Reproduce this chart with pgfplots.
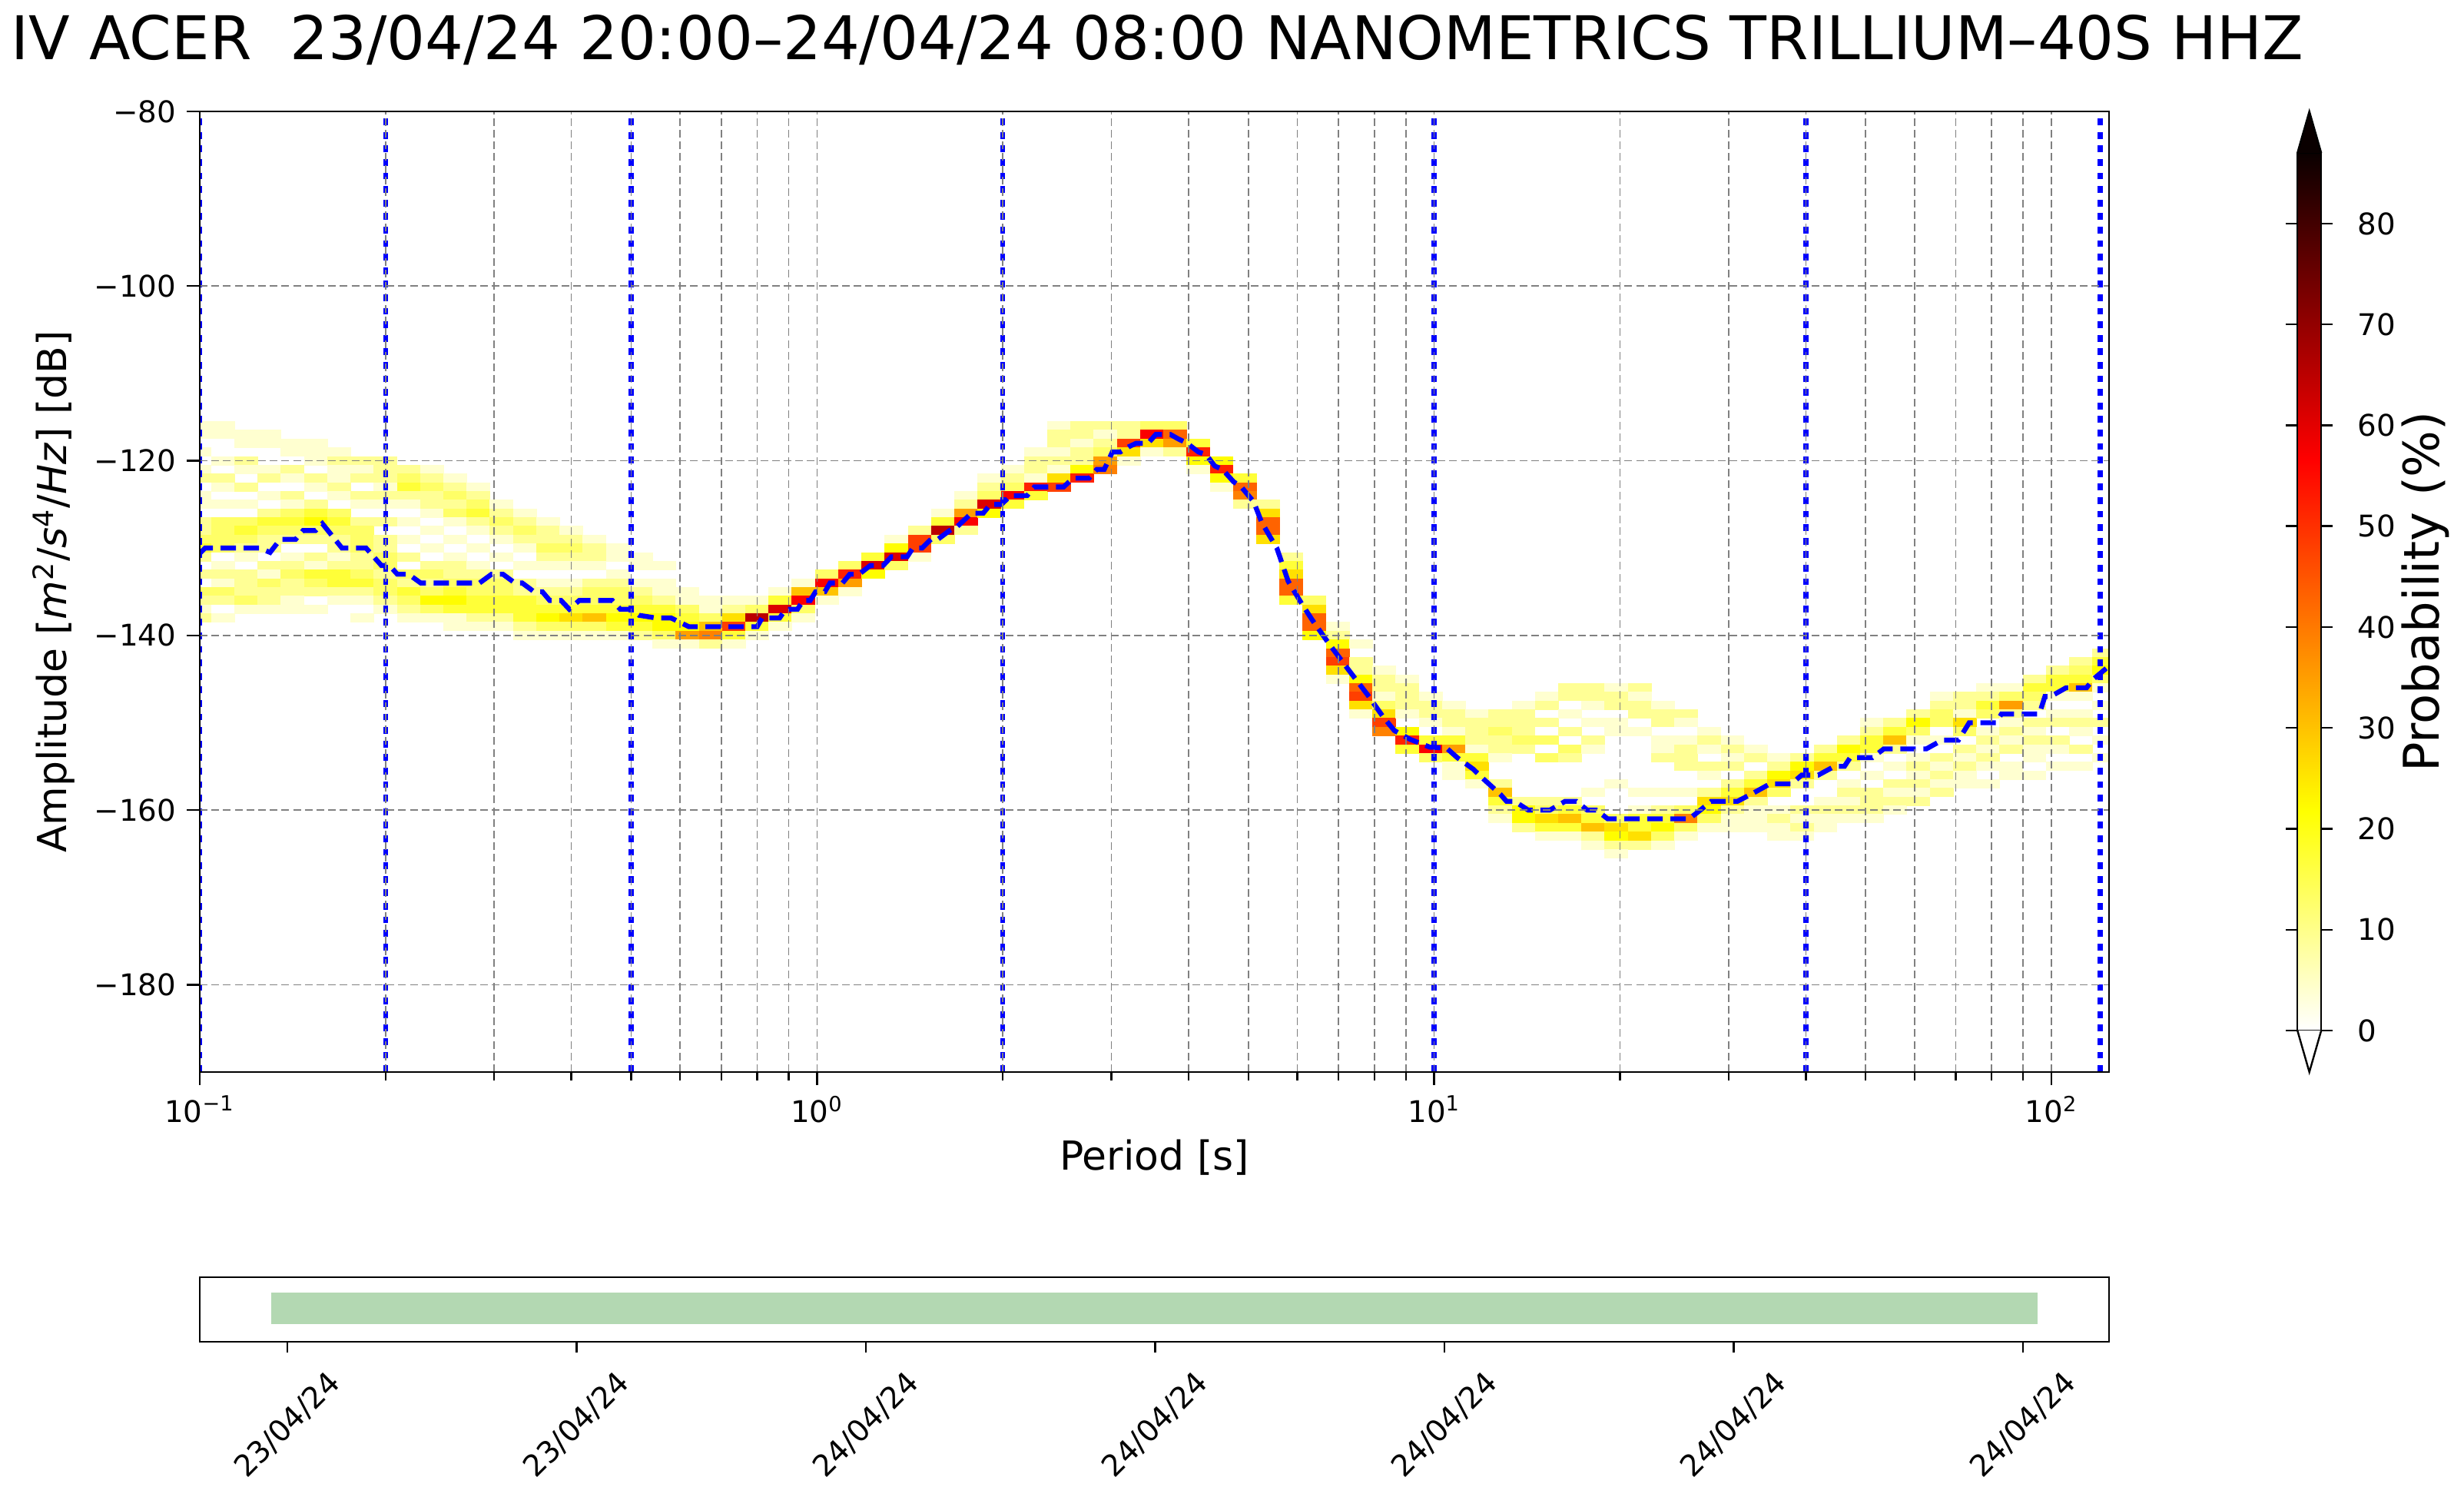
\documentclass[border=0pt]{standalone}
\usepackage{fontspec}
\setmainfont{DejaVu Sans}
\usepackage{pgfplots}
\usepackage{pgfplotstable}
\pgfplotsset{compat=1.18}

\definecolor{barg}{rgb}{0.702,0.847,0.698}
\definecolor{cbtop}{rgb}{0.04,0,0}

% one histogram cell: 1/8 octave wide, 1 dB high
\pgfdeclareplotmark{cell}{%
  \pgfpathrectangle{\pgfpoint{-3.86pt}{-1.5pt}}{\pgfpoint{7.72pt}{3.0pt}}%
  \pgfusepathqfill}

% period [s], power [dB], probability [%]
\pgfplotstableread[row sep=\\]{
t db p\\
0.1 -116 4\\0.1 -117 4\\0.1 -119 4\\0.1 -121 4\\0.1 -122 9\\0.1 -124 4\\0.1 -125 4\\0.1 -127 9\\0.1 -128 9\\0.1 -129 13\\0.1 -130 17\\0.1 -131 9\\0.1 -133 9\\0.1 -135 13\\0.1 -136 9\\0.1 -137 4\\0.1 -138 9\\
0.1091 -116 4\\0.1091 -117 4\\0.1091 -120 4\\0.1091 -122 9\\0.1091 -123 4\\0.1091 -125 4\\0.1091 -127 13\\0.1091 -128 13\\0.1091 -129 13\\0.1091 -130 13\\0.1091 -132 4\\0.1091 -133 9\\0.1091 -134 4\\0.1091 -135 13\\0.1091 -136 9\\0.1091 -138 4\\
0.1189 -117 4\\0.1189 -118 4\\0.1189 -120 9\\0.1189 -121 4\\0.1189 -123 9\\0.1189 -125 4\\0.1189 -127 13\\0.1189 -128 17\\0.1189 -129 13\\0.1189 -130 9\\0.1189 -131 4\\0.1189 -133 9\\0.1189 -134 9\\0.1189 -135 9\\0.1189 -136 13\\0.1189 -137 4\\
0.1297 -117 4\\0.1297 -118 4\\0.1297 -121 4\\0.1297 -122 9\\0.1297 -124 4\\0.1297 -126 9\\0.1297 -127 17\\0.1297 -128 13\\0.1297 -129 9\\0.1297 -130 9\\0.1297 -132 9\\0.1297 -133 4\\0.1297 -134 13\\0.1297 -135 9\\0.1297 -136 9\\0.1297 -137 4\\
0.1414 -118 4\\0.1414 -119 4\\0.1414 -121 9\\0.1414 -122 4\\0.1414 -124 9\\0.1414 -125 4\\0.1414 -126 13\\0.1414 -127 17\\0.1414 -128 13\\0.1414 -129 9\\0.1414 -131 4\\0.1414 -132 9\\0.1414 -133 13\\0.1414 -134 9\\0.1414 -135 9\\0.1414 -136 4\\0.1414 -137 4\\
0.1542 -118 4\\0.1542 -119 4\\0.1542 -120 4\\0.1542 -122 9\\0.1542 -123 4\\0.1542 -125 9\\0.1542 -126 17\\0.1542 -127 22\\0.1542 -128 13\\0.1542 -129 9\\0.1542 -131 9\\0.1542 -132 4\\0.1542 -133 17\\0.1542 -134 13\\0.1542 -135 9\\0.1542 -137 4\\
0.1682 -119 4\\0.1682 -120 9\\0.1682 -121 4\\0.1682 -122 4\\0.1682 -123 9\\0.1682 -124 4\\0.1682 -126 13\\0.1682 -127 17\\0.1682 -128 13\\0.1682 -129 9\\0.1682 -130 9\\0.1682 -131 4\\0.1682 -132 9\\0.1682 -133 17\\0.1682 -134 17\\0.1682 -135 9\\0.1682 -136 4\\
0.1834 -120 9\\0.1834 -121 4\\0.1834 -122 9\\0.1834 -124 9\\0.1834 -125 4\\0.1834 -127 9\\0.1834 -128 13\\0.1834 -129 13\\0.1834 -130 13\\0.1834 -131 9\\0.1834 -132 9\\0.1834 -133 13\\0.1834 -134 17\\0.1834 -135 9\\0.1834 -136 4\\0.1834 -138 4\\
0.2 -120 9\\0.2 -121 9\\0.2 -122 9\\0.2 -123 4\\0.2 -124 9\\0.2 -125 4\\0.2 -127 9\\0.2 -129 9\\0.2 -130 9\\0.2 -131 13\\0.2 -132 13\\0.2 -133 9\\0.2 -134 13\\0.2 -135 13\\0.2 -136 9\\0.2 -137 4\\
0.2181 -121 9\\0.2181 -122 13\\0.2181 -123 17\\0.2181 -124 9\\0.2181 -125 4\\0.2181 -127 4\\0.2181 -129 4\\0.2181 -131 9\\0.2181 -133 13\\0.2181 -134 9\\0.2181 -135 17\\0.2181 -136 13\\0.2181 -137 9\\0.2181 -138 4\\
0.2378 -121 4\\0.2378 -122 9\\0.2378 -123 13\\0.2378 -124 9\\0.2378 -125 9\\0.2378 -126 4\\0.2378 -128 4\\0.2378 -130 4\\0.2378 -132 9\\0.2378 -133 13\\0.2378 -134 9\\0.2378 -135 13\\0.2378 -136 22\\0.2378 -137 13\\0.2378 -138 4\\
0.2594 -122 4\\0.2594 -123 9\\0.2594 -124 13\\0.2594 -125 9\\0.2594 -126 13\\0.2594 -127 4\\0.2594 -129 4\\0.2594 -131 4\\0.2594 -132 9\\0.2594 -133 9\\0.2594 -134 13\\0.2594 -135 17\\0.2594 -136 22\\0.2594 -137 17\\0.2594 -138 4\\0.2594 -139 4\\
0.2828 -123 4\\0.2828 -124 9\\0.2828 -125 13\\0.2828 -126 17\\0.2828 -127 9\\0.2828 -128 4\\0.2828 -130 4\\0.2828 -132 4\\0.2828 -133 9\\0.2828 -134 13\\0.2828 -135 13\\0.2828 -136 17\\0.2828 -137 17\\0.2828 -138 9\\0.2828 -139 4\\
0.3084 -125 4\\0.3084 -126 9\\0.3084 -127 13\\0.3084 -128 9\\0.3084 -129 4\\0.3084 -131 4\\0.3084 -133 9\\0.3084 -134 13\\0.3084 -135 13\\0.3084 -136 17\\0.3084 -137 17\\0.3084 -138 9\\0.3084 -139 4\\
0.3364 -126 4\\0.3364 -127 9\\0.3364 -128 13\\0.3364 -129 9\\0.3364 -130 4\\0.3364 -132 4\\0.3364 -134 9\\0.3364 -135 9\\0.3364 -136 17\\0.3364 -137 17\\0.3364 -138 17\\0.3364 -139 9\\0.3364 -140 4\\
0.3668 -127 4\\0.3668 -128 9\\0.3668 -129 9\\0.3668 -130 13\\0.3668 -131 9\\0.3668 -132 4\\0.3668 -134 4\\0.3668 -135 9\\0.3668 -136 13\\0.3668 -137 17\\0.3668 -138 22\\0.3668 -139 13\\0.3668 -140 4\\
0.4 -128 4\\0.4 -129 9\\0.4 -130 13\\0.4 -131 9\\0.4 -132 4\\0.4 -134 4\\0.4 -135 9\\0.4 -136 13\\0.4 -137 17\\0.4 -138 26\\0.4 -139 13\\0.4 -140 4\\
0.4362 -129 4\\0.4362 -130 9\\0.4362 -131 9\\0.4362 -132 4\\0.4362 -134 9\\0.4362 -135 13\\0.4362 -136 13\\0.4362 -137 17\\0.4362 -138 30\\0.4362 -139 13\\0.4362 -140 4\\
0.4757 -130 4\\0.4757 -131 4\\0.4757 -133 4\\0.4757 -134 9\\0.4757 -135 13\\0.4757 -136 13\\0.4757 -137 17\\0.4757 -138 22\\0.4757 -139 17\\0.4757 -140 4\\
0.5187 -131 4\\0.5187 -132 4\\0.5187 -134 4\\0.5187 -135 9\\0.5187 -136 13\\0.5187 -137 17\\0.5187 -138 22\\0.5187 -139 17\\0.5187 -140 9\\
0.5657 -132 4\\0.5657 -134 4\\0.5657 -135 4\\0.5657 -136 9\\0.5657 -137 17\\0.5657 -138 22\\0.5657 -139 22\\0.5657 -140 13\\0.5657 -141 4\\
0.6169 -135 4\\0.6169 -136 4\\0.6169 -137 13\\0.6169 -138 17\\0.6169 -139 22\\0.6169 -140 35\\0.6169 -141 4\\
0.6727 -136 4\\0.6727 -137 4\\0.6727 -138 13\\0.6727 -139 30\\0.6727 -140 39\\0.6727 -141 9\\
0.7336 -136 4\\0.7336 -137 9\\0.7336 -138 26\\0.7336 -139 48\\0.7336 -140 17\\0.7336 -141 4\\
0.8 -136 4\\0.8 -137 13\\0.8 -138 65\\0.8 -139 17\\0.8 -140 4\\
0.8724 -135 4\\0.8724 -136 17\\0.8724 -137 61\\0.8724 -138 17\\0.8724 -139 4\\
0.9514 -134 4\\0.9514 -135 30\\0.9514 -136 57\\0.9514 -137 13\\0.9514 -138 4\\
1.0375 -133 13\\1.0375 -134 57\\1.0375 -135 30\\1.0375 -136 4\\
1.1314 -132 13\\1.1314 -133 52\\1.1314 -134 35\\1.1314 -135 4\\
1.2338 -131 17\\1.2338 -132 61\\1.2338 -133 22\\
1.3454 -129 4\\1.3454 -130 22\\1.3454 -131 61\\1.3454 -132 13\\
1.4672 -128 9\\1.4672 -129 48\\1.4672 -130 48\\1.4672 -131 4\\
1.6 -126 4\\1.6 -127 17\\1.6 -128 65\\1.6 -129 13\\
1.7448 -124 4\\1.7448 -125 9\\1.7448 -126 35\\1.7448 -127 57\\1.7448 -128 9\\
1.9027 -122 4\\1.9027 -123 9\\1.9027 -124 13\\1.9027 -125 61\\1.9027 -126 22\\
2.0749 -121 4\\2.0749 -122 9\\2.0749 -123 13\\2.0749 -124 57\\2.0749 -125 17\\
2.2627 -119 4\\2.2627 -120 9\\2.2627 -121 9\\2.2627 -122 4\\2.2627 -123 52\\2.2627 -124 17\\
2.4675 -116 4\\2.4675 -117 9\\2.4675 -118 9\\2.4675 -119 4\\2.4675 -120 9\\2.4675 -121 4\\2.4675 -122 26\\2.4675 -123 48\\
2.6909 -116 9\\2.6909 -117 9\\2.6909 -118 4\\2.6909 -119 9\\2.6909 -120 9\\2.6909 -121 22\\2.6909 -122 52\\
2.9344 -116 9\\2.9344 -117 4\\2.9344 -118 9\\2.9344 -119 13\\2.9344 -120 35\\2.9344 -121 39\\
3.2 -116 9\\3.2 -117 9\\3.2 -118 48\\3.2 -119 26\\3.2 -120 4\\
3.4896 -116 13\\3.4896 -117 57\\3.4896 -118 26\\3.4896 -119 4\\
3.8055 -116 13\\3.8055 -117 43\\3.8055 -118 35\\3.8055 -119 9\\
4.1499 -118 17\\4.1499 -119 52\\4.1499 -120 22\\4.1499 -121 4\\
4.5255 -120 22\\4.5255 -121 52\\4.5255 -122 22\\4.5255 -123 4\\
4.935 -122 17\\4.935 -123 43\\4.935 -124 39\\4.935 -125 9\\
5.3817 -125 9\\5.3817 -126 26\\5.3817 -127 43\\5.3817 -128 43\\5.3817 -129 26\\
5.8688 -131 9\\5.8688 -132 17\\5.8688 -133 26\\5.8688 -134 43\\5.8688 -135 43\\5.8688 -136 17\\
6.4 -136 13\\6.4 -137 26\\6.4 -138 43\\6.4 -139 43\\6.4 -140 22\\
6.9793 -139 4\\6.9793 -140 9\\6.9793 -141 22\\6.9793 -142 43\\6.9793 -143 48\\6.9793 -144 26\\6.9793 -145 4\\
7.6109 -141 4\\7.6109 -143 9\\7.6109 -144 9\\7.6109 -145 22\\7.6109 -146 43\\7.6109 -147 48\\7.6109 -148 26\\7.6109 -149 4\\
8.2998 -144 4\\8.2998 -145 9\\8.2998 -146 9\\8.2998 -147 4\\8.2998 -148 13\\8.2998 -149 26\\8.2998 -150 48\\8.2998 -151 39\\
9.051 -145 4\\9.051 -146 9\\9.051 -147 9\\9.051 -148 9\\9.051 -149 4\\9.051 -151 22\\9.051 -152 52\\9.051 -153 17\\
9.8701 -147 4\\9.8701 -148 9\\9.8701 -149 9\\9.8701 -150 4\\9.8701 -152 17\\9.8701 -153 57\\9.8701 -154 13\\
10.763 -148 4\\10.763 -149 9\\10.763 -150 9\\10.763 -151 4\\10.763 -152 17\\10.763 -153 35\\10.763 -154 17\\10.763 -155 4\\10.763 -156 4\\
11.738 -149 4\\11.738 -150 9\\11.738 -151 9\\11.738 -152 9\\11.738 -153 4\\11.738 -154 17\\11.738 -155 26\\11.738 -156 17\\11.738 -157 4\\
12.8 -149 9\\12.8 -150 9\\12.8 -151 13\\12.8 -152 9\\12.8 -153 9\\12.8 -154 4\\12.8 -157 9\\12.8 -158 30\\12.8 -159 17\\12.8 -160 9\\12.8 -161 4\\
13.959 -148 4\\13.959 -149 9\\13.959 -150 9\\13.959 -151 9\\13.959 -152 13\\13.959 -153 9\\13.959 -159 9\\13.959 -160 22\\13.959 -161 22\\13.959 -162 9\\
15.222 -147 4\\15.222 -148 9\\15.222 -150 9\\15.222 -152 13\\15.222 -154 13\\15.222 -159 9\\15.222 -160 13\\15.222 -161 26\\15.222 -162 17\\15.222 -163 4\\
16.6 -146 9\\16.6 -147 9\\16.6 -149 4\\16.6 -151 9\\16.6 -153 13\\16.6 -154 9\\16.6 -159 9\\16.6 -160 17\\16.6 -161 30\\16.6 -162 17\\16.6 -163 4\\
18.102 -146 9\\18.102 -147 9\\18.102 -148 4\\18.102 -150 4\\18.102 -152 9\\18.102 -153 4\\18.102 -158 4\\18.102 -160 13\\18.102 -161 17\\18.102 -162 30\\18.102 -163 9\\18.102 -164 4\\
19.74 -146 4\\19.74 -147 9\\19.74 -148 9\\19.74 -150 4\\19.74 -151 4\\19.74 -157 4\\19.74 -161 13\\19.74 -162 26\\19.74 -163 22\\19.74 -164 9\\19.74 -165 4\\
21.527 -146 9\\21.527 -147 4\\21.527 -148 9\\21.527 -149 9\\21.527 -151 4\\21.527 -158 4\\21.527 -160 4\\21.527 -161 17\\21.527 -162 17\\21.527 -163 26\\21.527 -164 9\\
23.475 -148 4\\23.475 -149 9\\23.475 -150 9\\23.475 -152 4\\23.475 -153 4\\23.475 -154 9\\23.475 -158 4\\23.475 -160 9\\23.475 -161 17\\23.475 -162 22\\23.475 -163 13\\23.475 -164 4\\
25.6 -149 9\\25.6 -150 4\\25.6 -152 4\\25.6 -153 9\\25.6 -154 9\\25.6 -155 9\\25.6 -158 4\\25.6 -160 13\\25.6 -161 39\\25.6 -162 13\\25.6 -163 4\\
27.917 -151 4\\27.917 -152 9\\27.917 -153 4\\27.917 -155 9\\27.917 -156 4\\27.917 -158 9\\27.917 -159 26\\27.917 -160 22\\27.917 -161 13\\27.917 -162 4\\
30.444 -152 4\\30.444 -153 9\\30.444 -154 4\\30.444 -155 9\\30.444 -157 9\\30.444 -158 17\\30.444 -159 26\\30.444 -160 9\\30.444 -161 4\\30.444 -162 4\\
33.199 -153 4\\33.199 -154 9\\33.199 -156 9\\33.199 -157 17\\33.199 -158 30\\33.199 -159 9\\33.199 -160 4\\33.199 -161 4\\33.199 -162 4\\
36.204 -154 4\\36.204 -155 9\\36.204 -156 22\\36.204 -157 26\\36.204 -158 13\\36.204 -160 4\\36.204 -161 9\\36.204 -162 4\\36.204 -163 4\\
39.48 -154 9\\39.48 -155 22\\39.48 -156 26\\39.48 -157 9\\39.48 -160 9\\39.48 -161 4\\39.48 -162 9\\39.48 -163 4\\
43.054 -153 9\\43.054 -154 17\\43.054 -155 30\\43.054 -156 9\\43.054 -159 4\\43.054 -160 9\\43.054 -161 4\\43.054 -162 4\\
46.951 -152 9\\46.951 -153 22\\46.951 -154 17\\46.951 -155 9\\46.951 -157 4\\46.951 -158 9\\46.951 -159 4\\46.951 -160 9\\46.951 -161 4\\
51.2 -150 4\\51.2 -151 9\\51.2 -152 17\\51.2 -153 17\\51.2 -154 4\\51.2 -156 4\\51.2 -158 9\\51.2 -159 9\\51.2 -160 9\\51.2 -161 4\\
55.834 -150 9\\55.834 -151 17\\55.834 -152 30\\55.834 -153 9\\55.834 -155 4\\55.834 -157 9\\55.834 -158 4\\55.834 -159 9\\55.834 -160 4\\
60.887 -149 9\\60.887 -150 22\\60.887 -151 13\\60.887 -152 4\\60.887 -154 4\\60.887 -155 9\\60.887 -156 4\\60.887 -157 9\\60.887 -158 4\\60.887 -159 9\\
66.398 -147 4\\66.398 -148 9\\66.398 -149 13\\66.398 -150 13\\66.398 -152 4\\66.398 -154 9\\66.398 -155 4\\66.398 -156 9\\66.398 -157 4\\66.398 -158 9\\
72.408 -147 9\\72.408 -148 9\\72.408 -149 4\\72.408 -150 26\\72.408 -151 13\\72.408 -153 9\\72.408 -154 4\\72.408 -155 9\\72.408 -156 4\\72.408 -157 4\\
78.961 -146 4\\78.961 -147 9\\78.961 -148 17\\78.961 -149 13\\78.961 -151 4\\78.961 -152 9\\78.961 -153 4\\78.961 -154 9\\78.961 -155 4\\78.961 -157 4\\
86.108 -146 4\\86.108 -147 13\\86.108 -148 35\\86.108 -149 9\\86.108 -150 4\\86.108 -151 9\\86.108 -152 4\\86.108 -153 9\\86.108 -155 4\\86.108 -156 4\\
93.901 -145 9\\93.901 -146 17\\93.901 -147 13\\93.901 -148 9\\93.901 -150 9\\93.901 -151 4\\93.901 -152 9\\93.901 -153 4\\93.901 -154 4\\93.901 -156 4\\
102.4 -144 9\\102.4 -145 17\\102.4 -146 17\\102.4 -147 4\\102.4 -149 4\\102.4 -150 9\\102.4 -152 9\\102.4 -153 4\\102.4 -155 4\\
111.67 -143 9\\111.67 -144 13\\111.67 -145 17\\111.67 -146 30\\111.67 -147 4\\111.67 -149 4\\111.67 -150 9\\111.67 -151 4\\111.67 -153 9\\111.67 -155 4\\
121.78 -142 9\\121.78 -143 17\\121.78 -144 22\\121.78 -145 13\\121.78 -146 4\\121.78 -148 4\\121.78 -150 9\\121.78 -152 4\\121.78 -154 4\\
}\ppsd

\begin{document}
\begin{tikzpicture}
\useasboundingbox (-65pt,-138pt) rectangle (736.75pt,348.75pt);
\begin{axis}[
  at={(0,0)}, anchor=south west,
  scale only axis, width=621.25pt, height=312.5pt,
  xmode=log, xmin=0.1, xmax=124, ymin=-190, ymax=-80,
  xtick={0.1,1,10,100},
  xticklabels={10\textsuperscript{−1},10\textsuperscript{0},10\textsuperscript{1},10\textsuperscript{2}},
  minor xtick={0.2,0.3,0.4,0.5,0.6,0.7,0.8,0.9,2,3,4,5,6,7,8,9,20,30,40,50,60,70,80,90},
  ytick={-180,-160,-140,-120,-100,-80},
  yticklabels={−180,−160,−140,−120,−100,−80},
  xtick pos=lower, ytick pos=left,
  tick align=outside, major tick length=4.2pt, minor tick length=2.8pt,
  tick style={black, line width=0.6pt},
  axis line style={line width=0.7pt},
  grid=both,
  major grid style={gray, line width=0.4pt, dash pattern=on 2.5pt off 1.3pt},
  minor grid style={gray, line width=0.4pt, dash pattern=on 2.5pt off 1.3pt},
  axis on top,
  clip marker paths=true,
  tick label style={font=\fontsize{9.7}{11}\selectfont},
  label style={font=\fontsize{13}{15}\selectfont},
  xlabel={Period [s]},
  ylabel={Amplitude [\textit{m}\textsuperscript{2}/\textit{s}\textsuperscript{4}/\textit{Hz}] [dB]},
  xlabel style={at={(axis description cs:0.5,-0.0888)}, anchor=center},
  ylabel style={at={(axis description cs:-0.0765,0.5)}, anchor=center},
  colormap={hotr}{rgb(0cm)=(1,1,1) rgb(5cm)=(1,1,0) rgb(13cm)=(1,0,0) rgb(20cm)=(0.04,0,0)},
  point meta min=0, point meta max=87,
  colorbar,
  colorbar style={
    name=cb,
    at={(parent axis.south east)}, anchor=south west,
    xshift=52.75pt, yshift=13.5pt,
    scale only axis, width=7.75pt, height=285.5pt,
    ytick={0,10,20,30,40,50,60,70,80},
    yticklabel pos=right,
    tick align=outside, major tick length=3.8pt,
    tick style={black, line width=0.6pt},
    axis line style={line width=0.6pt},
    yticklabel style={font=\fontsize{9.7}{11}\selectfont, xshift=4.5pt, /pgf/number format/assume math mode=true},
    ylabel={Probability (\%)},
    ylabel style={font=\fontsize{16}{19}\selectfont, at={(axis description cs:5.39,0.5)}, anchor=center},
  },
]
\addplot[scatter, only marks, mark=cell, point meta=explicit,
  scatter/use mapped color={draw=none, fill=mapped color}]
  table[x=t, y=db, meta=p] {\ppsd};

\addplot[blue, line width=1.6pt, dash pattern=on 2.2pt off 2.2pt] coordinates {(0.1,-190) (0.1,-80)};
\addplot[blue, line width=1.6pt, dash pattern=on 2.2pt off 2.2pt] coordinates {(0.2,-190) (0.2,-80)};
\addplot[blue, line width=1.6pt, dash pattern=on 2.2pt off 2.2pt] coordinates {(0.5,-190) (0.5,-80)};
\addplot[blue, line width=1.6pt, dash pattern=on 2.2pt off 2.2pt] coordinates {(2,-190) (2,-80)};
\addplot[blue, line width=1.6pt, dash pattern=on 2.2pt off 2.2pt] coordinates {(10,-190) (10,-80)};
\addplot[blue, line width=1.6pt, dash pattern=on 2.2pt off 2.2pt] coordinates {(40,-190) (40,-80)};
\addplot[blue, line width=1.6pt, dash pattern=on 2.2pt off 2.2pt] coordinates {(120,-190) (120,-80)};

% mean
\addplot[blue, line width=1.6pt, dash pattern=on 5pt off 2.5pt] coordinates {
(0.100,-130.6) (0.102,-130) (0.125,-130) (0.130,-130.5) (0.135,-129) (0.143,-129)
(0.147,-128) (0.154,-128) (0.158,-127.2) (0.170,-130) (0.186,-130) (0.197,-132)
(0.203,-132) (0.209,-133) (0.218,-133) (0.228,-134) (0.284,-134) (0.297,-133)
(0.310,-133) (0.324,-134) (0.333,-134) (0.348,-135) (0.359,-135) (0.369,-136)
(0.385,-136) (0.397,-137) (0.412,-136) (0.466,-136) (0.480,-137) (0.500,-137)
(0.515,-137.7) (0.548,-138) (0.580,-138) (0.620,-139) (0.800,-139) (0.815,-138)
(0.870,-138) (0.890,-137) (0.930,-137) (0.950,-136) (0.975,-136) (0.995,-135)
(1.03,-135) (1.05,-134) (1.10,-134) (1.13,-133) (1.17,-133) (1.22,-132) (1.28,-132)
(1.32,-131) (1.40,-131) (1.43,-130) (1.48,-130) (1.53,-129) (1.57,-129) (1.64,-128)
(1.69,-127.5) (1.78,-126) (1.86,-126) (1.91,-125) (1.99,-125) (2.06,-124) (2.19,-124)
(2.25,-123) (2.51,-123) (2.60,-122) (2.76,-122) (2.84,-121) (2.92,-121) (3.01,-119)
(3.10,-119) (3.20,-118.4) (3.29,-118) (3.44,-118) (3.54,-117) (3.74,-117) (3.85,-117.5)
(3.98,-118) (4.15,-119) (4.27,-119.3) (4.41,-120.6) (4.54,-121) (4.73,-122.4) (4.87,-123)
(5.10,-124.7) (5.25,-127) (5.41,-128.6) (5.56,-130) (5.80,-133.8) (6.08,-136.2)
(6.34,-138.2) (6.73,-140.8) (7.24,-143.8) (7.80,-146.8) (8.26,-149.3) (8.62,-150.9)
(9.14,-151.9) (9.84,-152.8) (10.47,-152.9) (10.9,-154) (11.56,-155.3) (12.0,-156.4)
(12.8,-158.2) (13.1,-159) (13.5,-159) (14.2,-160) (15.4,-160) (16.3,-159) (17.0,-159)
(17.7,-160) (18.3,-160) (19.1,-161) (25.9,-161) (27.0,-160) (28.1,-159) (31.0,-159)
(33.0,-158) (35.0,-157) (37.9,-157) (39.4,-156) (41.9,-156) (44.5,-155) (46.2,-155)
(47.2,-154) (51.3,-154) (53.5,-153) (62.7,-153) (66.5,-152) (70.7,-152) (73.6,-150)
(81.3,-150) (83.0,-149) (95.6,-149) (97.6,-147) (99.7,-147) (105.6,-146) (114,-146)
(117,-145) (124,-143.5)
};
\end{axis}

% colorbar extension triangles
\filldraw[fill=cbtop, draw=black, line width=0.6pt] (cb.north west) -- ([yshift=13.5pt]cb.north) -- (cb.north east);
\filldraw[fill=white, draw=black, line width=0.6pt] (cb.south west) -- ([yshift=-13.5pt]cb.south) -- (cb.south east);

% data availability bar
\begin{axis}[
  at={(0,-87.75pt)}, anchor=south west,
  scale only axis, width=621.25pt, height=21pt,
  xmin=-0.606, xmax=12.595, ymin=0, ymax=1,
  ytick=\empty,
  xtick={0,2,4,6,8,10,12},
  xticklabels={23/04/24,23/04/24,24/04/24,24/04/24,24/04/24,24/04/24,24/04/24},
  xtick pos=lower, tick align=outside, major tick length=3.6pt,
  tick style={black, line width=0.6pt},
  axis line style={line width=0.7pt},
  xticklabel style={font=\fontsize{9.7}{11}\selectfont, yshift=-23.5pt, rotate=45, anchor=center},
]
\addplot[fill=barg, draw=none] coordinates {(-0.11,0.274) (12.10,0.274) (12.10,0.762) (-0.11,0.762)} -- cycle;
\end{axis}

\node[anchor=base west, inner sep=0pt, font=\fontsize{19.6}{22}\selectfont] at (-61.5pt,329.25pt)
  {IV ACER\ \ 23/04/24 20:00–24/04/24 08:00 NANOMETRICS TRILLIUM–40S HHZ};
\end{tikzpicture}
\end{document}
